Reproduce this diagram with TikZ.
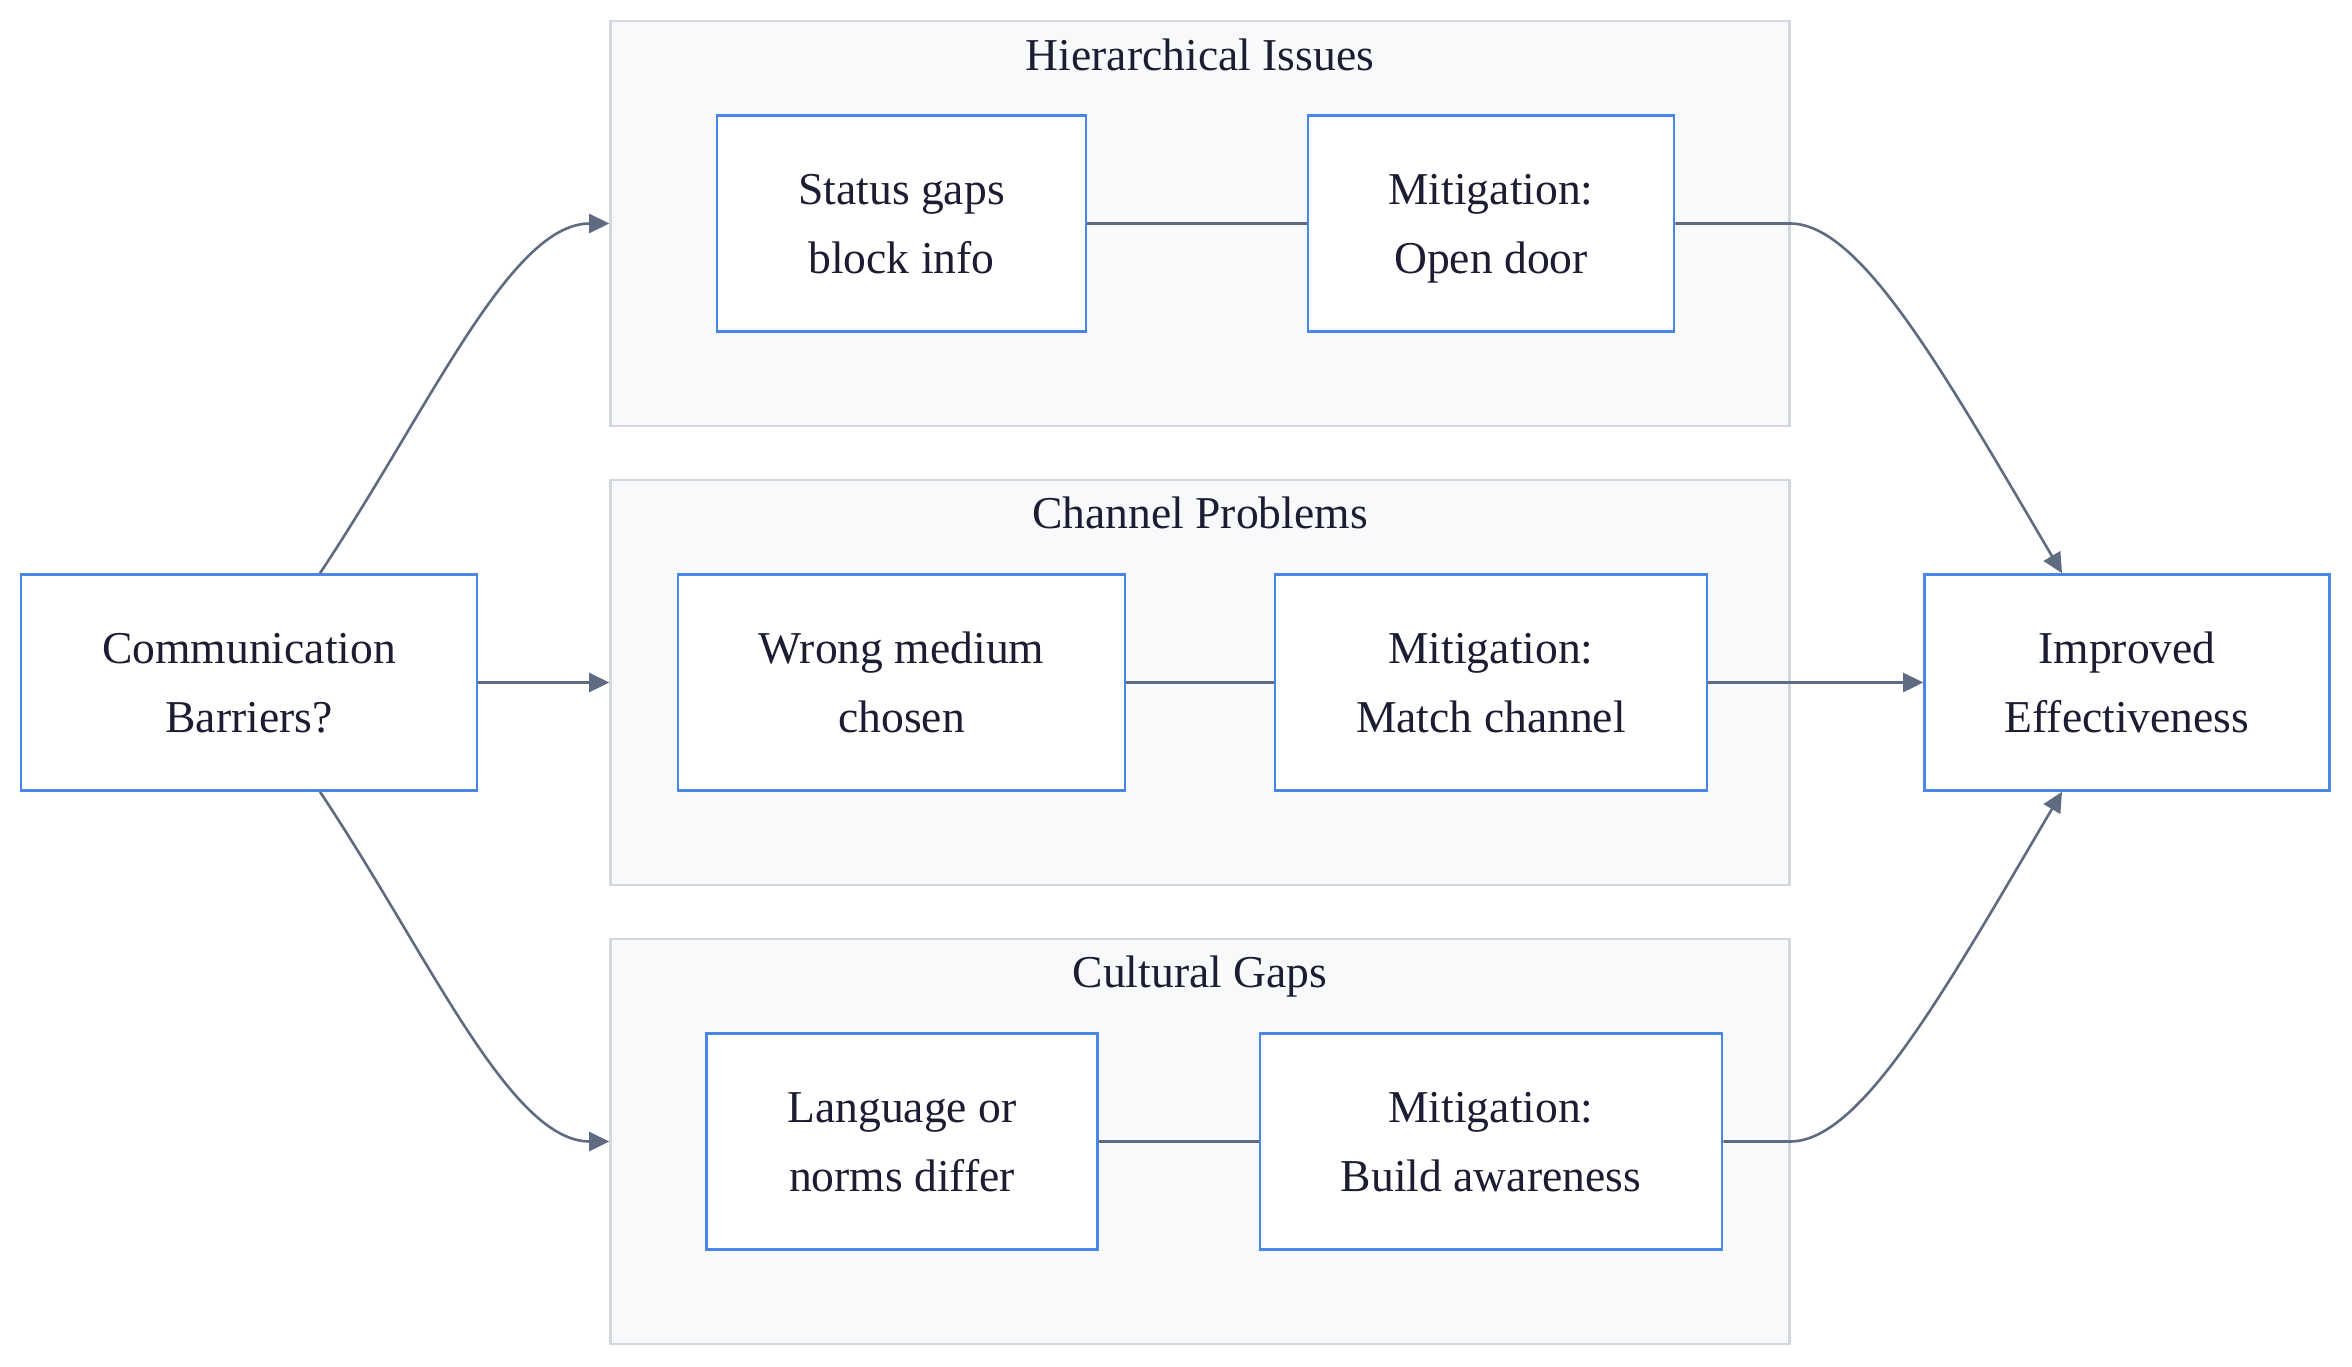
\documentclass[tikz,border=0pt]{standalone}
\usepackage{fontspec}
\setmainfont{Liberation Serif}
\usetikzlibrary{arrows.meta,calc}
\definecolor{boxblue}{HTML}{4A86E8}
\definecolor{clfill}{HTML}{F8F9FB}
\definecolor{cldraw}{HTML}{D3D8E0}
\definecolor{edgecol}{HTML}{5F6B80}
\definecolor{txtcol}{HTML}{1C1C33}
\newcommand{\tstrut}{\rule[-19.2pt]{0pt}{69pt}}
\begin{document}
\begin{tikzpicture}[x=1pt,y=-1pt,
  every node/.style={font=\fontsize{45.6}{69}\selectfont, text=txtcol, inner sep=0pt},
  procbox/.style={draw=boxblue, line width=2.6pt, fill=white, minimum height=216pt, align=center},
  cluster/.style={draw=cldraw, line width=2.6pt, fill=clfill, minimum width=1179pt, minimum height=405pt},
  conn/.style={draw=edgecol, line width=2.6pt},
  arr/.style={conn, -{Triangle[length=20pt,width=19pt]}}
]
\useasboundingbox[fill=white] (0,0) rectangle (2352,1367);
% clusters
\node[cluster] (hier) at (1200,223.5) {};
\node[cluster] (chan) at (1200,682.5) {};
\node[cluster] (cult) at (1200,1141.5) {};
\node (hiert) at (1200,57) {\strut Hierarchical Issues};
\node (chant) at (1200,515) {\strut Channel Problems};
\node (cultt) at (1200,974) {\strut Cultural Gaps};
% nodes
\node[procbox, minimum width=456pt] (comm) at (249,682.5) {\tstrut Communication\\\tstrut Barriers?};
\node[procbox, minimum width=405pt] (imp) at (2127,682.5) {\tstrut Improved\\\tstrut Effectiveness};
\node[procbox, minimum width=369pt] (sg) at (901.5,223.5) {\tstrut Status gaps\\\tstrut block info};
\node[procbox, minimum width=366pt] (od) at (1491,223.5) {\tstrut Mitigation:\\\tstrut Open door};
\node[procbox, minimum width=447pt] (wm) at (901.5,682.5) {\tstrut Wrong medium\\\tstrut chosen};
\node[procbox, minimum width=432pt] (mc) at (1491,682.5) {\tstrut Mitigation:\\\tstrut Match channel};
\node[procbox, minimum width=391.5pt] (lang) at (902,1141.5) {\tstrut Language or\\\tstrut norms differ};
\node[procbox, minimum width=462pt] (ba) at (1491,1141.5) {\tstrut Mitigation:\\\tstrut Build awareness};
% inner links
\draw[conn] (sg.east) -- (od.west);
\draw[conn] (wm.east) -- (mc.west);
\draw[conn] (lang.east) -- (ba.west);
% edges
\coordinate (c1) at ([xshift=71pt]comm.north);
\coordinate (c2) at ([xshift=71pt]comm.south);
\coordinate (i1) at ([xshift=-65pt]imp.north);
\coordinate (i2) at ([xshift=-65pt]imp.south);
\draw[arr] (c1) .. controls (430,408) and (510,223.5) .. (hier.west);
\draw[arr] (c2) .. controls (430,957) and (510,1141.5) .. (cult.west);
\draw[arr] (comm.east) -- (chan.west);
\draw[arr] (od.east) -- (1790,223.5) .. controls (1860,223.5) and (1941,367.4) .. (i1);
\draw[arr] (ba.east) -- (1790,1141.5) .. controls (1860,1141.5) and (1941,997.6) .. (i2);
\draw[arr] (mc.east) -- (imp.west);
\end{tikzpicture}
\end{document}
